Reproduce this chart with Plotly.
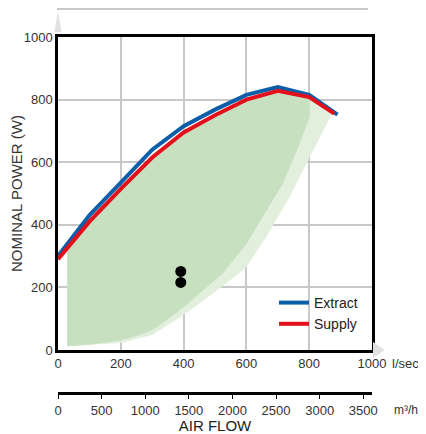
import plotly.graph_objects as go

# Air flow (l/sec) and nominal power (W)
extract_x = [0, 100, 200, 300, 400, 500, 600, 700, 800, 890]
extract_y = [300, 430, 535, 640, 715, 768, 815, 840, 815, 752]
supply_x = [0, 100, 200, 300, 400, 500, 600, 700, 800, 880]
supply_y = [290, 410, 515, 615, 695, 750, 800, 828, 808, 755]

# operating envelope (outer, lighter) lower/right edge
outer_x = [29, 200, 260, 300, 400, 473, 526, 600, 664, 738, 802, 871]
outer_y = [12, 22, 38, 48, 112, 165, 205, 265, 363, 490, 618, 751]
outer_top_x = [871, 800, 700, 600, 500, 400, 300, 200, 100, 29]
outer_top_y = [758, 808, 828, 800, 750, 695, 615, 515, 410, 325]

# inner (darker) envelope lower/right edge
inner_x = [29, 100, 200, 260, 300, 350, 404, 450, 526, 600, 653, 717, 770, 802]
inner_y = [12, 17, 30, 48, 64, 98, 140, 180, 246, 338, 427, 533, 661, 745]
inner_top_x = [802, 700, 600, 500, 400, 300, 200, 100, 29]
inner_top_y = [808, 828, 800, 750, 695, 615, 515, 410, 325]

# measured points
dot_x = [391, 391]
dot_y = [251, 216]

x_ticks = [0, 200, 400, 600, 800, 1000]
y_ticks = [0, 200, 400, 600, 800, 1000]
m3h_ticks = [0, 500, 1000, 1500, 2000, 2500, 3000, 3500]

FONT = "Liberation Sans, Arial, sans-serif"
BLUE = "#0b5ea8"
RED = "#e3101c"

fig = go.Figure()
fig.add_trace(go.Scatter(x=outer_x + outer_top_x, y=outer_y + outer_top_y, fill="toself",
                         fillcolor="#e2efdc", mode="none", showlegend=False, hoverinfo="skip"))
fig.add_trace(go.Scatter(x=inner_x + inner_top_x, y=inner_y + inner_top_y, fill="toself",
                         fillcolor="#c7e1c0", mode="none", showlegend=False, hoverinfo="skip"))
fig.add_trace(go.Scatter(x=extract_x, y=extract_y, mode="lines", name="Extract",
                         line=dict(color=BLUE, width=4)))
fig.add_trace(go.Scatter(x=supply_x, y=supply_y, mode="lines", name="Supply",
                         line=dict(color=RED, width=4)))
fig.add_trace(go.Scatter(x=dot_x, y=dot_y, mode="markers", showlegend=False,
                         marker=dict(color="black", size=11)))
# the same extract curve on the m3/hr scale (invisible, keeps the second axis alive)
fig.add_trace(go.Scatter(x=[v * 3.6 for v in extract_x], y=extract_y, xaxis="x2",
                         mode="lines", line=dict(width=0), opacity=0,
                         showlegend=False, hoverinfo="skip"))

OFF = 8  # page body margin
W, H = 426 - OFF, 434 - OFF
PL, PR, PT, PB = 58, 372, 37, 414  # plot box in page pixels (PB = bottom of plotting area)
L, T = PL - OFF, PT - OFF
R = W - (PR - OFF)
B = H - (PB - OFF)
ph = H - T - B
pw = W - L - R


def py(p):
    return (PB - p) / ph


def px(p):
    return (p - PL) / pw


fig.update_layout(
    width=W, height=H,
    margin=dict(l=L, r=R, t=T, b=B),
    paper_bgcolor="white", plot_bgcolor="white",
    font=dict(family=FONT, size=13, color="#333333"),
    xaxis=dict(range=[0, 1000], tickvals=x_ticks, showgrid=True, gridcolor="#c8c8c8",
               gridwidth=2, showline=True, linecolor="black", linewidth=2.5, mirror=True,
               ticks="", zeroline=False, automargin=False),
    yaxis=dict(range=[0, 1000], tickvals=y_ticks, domain=[py(350), 1], showgrid=True,
               gridcolor="#c8c8c8", gridwidth=2, showline=True, linecolor="black",
               linewidth=2.5, mirror=True, ticks="", zeroline=False, automargin=False,
               title=dict(text="NOMINAL POWER (W)", font=dict(size=15), standoff=2)),
    xaxis2=dict(range=[0, 3600], tickvals=m3h_ticks, overlaying="x", anchor="free",
                position=py(393), side="bottom", showgrid=False, zeroline=False,
                showline=True, linecolor="black", linewidth=3, ticks="outside",
                ticklen=4, tickwidth=1, tickcolor="black", automargin=False,
                title=dict(text="AIR FLOW", font=dict(size=15, color="#222222"), standoff=0)),
    legend=dict(x=px(274), y=py(287), xanchor="left", yanchor="top",
                bgcolor="rgba(0,0,0,0)", font=dict(size=14, color="#222222"),
                itemwidth=30, tracegroupgap=0),
    showlegend=True,
)

fig.add_annotation(text="l/sec", xref="paper", yref="paper", x=px(390), y=py(363),
                   xanchor="left", yanchor="middle", showarrow=False,
                   font=dict(size=13, color="#333333"))
fig.add_annotation(text="m³/hr", xref="paper", yref="paper", x=px(392), y=py(410),
                   xanchor="left", yanchor="middle", showarrow=False,
                   font=dict(size=12, color="#333333"))

# decorative frame marks
fig.add_shape(type="line", xref="paper", yref="paper", x0=px(57), x1=px(368),
              y0=py(9), y1=py(9), line=dict(color="#c8c8c8", width=2))
fig.add_shape(type="path", xref="paper", yref="paper",
              path=f"M {px(54.5)},{py(32)} L {px(58)},{py(11)} L {px(61.5)},{py(32)} Z",
              fillcolor="#e2e2e2", line=dict(width=0))
fig.add_shape(type="path", xref="paper", yref="paper",
              path=f"M {px(373)},{py(342)} L {px(385)},{py(350)} L {px(373)},{py(358)} Z",
              fillcolor="#e2e2e2", line=dict(width=0))

fig.write_html("out.html")
